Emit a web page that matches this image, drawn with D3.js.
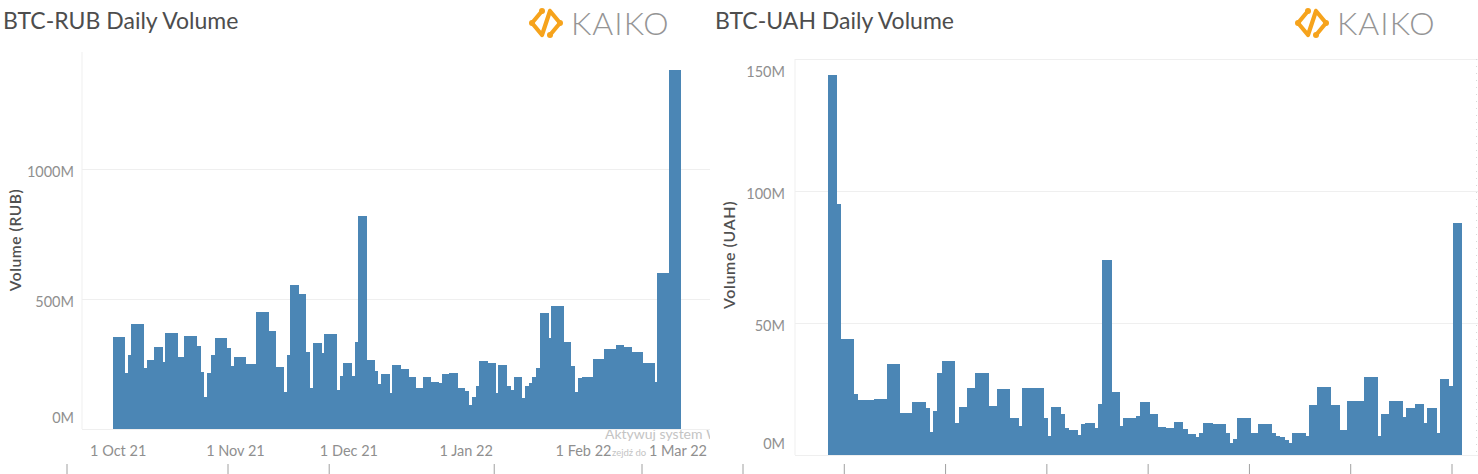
<!DOCTYPE html>
<html>
<head>
<meta charset="utf-8">
<script src="https://cdn.jsdelivr.net/npm/d3@7"></script>
<style>
  html, body { margin: 0; padding: 0; background: #fff; }
  svg { display: block; }
  text { font-family: Lato, "Open Sans", sans-serif; }
</style>
</head>
<body>
<svg id="chart" width="1478" height="474"></svg>
<script>
// ---------------- DATA ----------------
const startDate = new Date(2021, 8, 30);   // first bar: 30 Sep 2021
const endDate   = new Date(2022, 1, 27);   // exclusive end: bars through 26 Feb 2022
const dates = d3.timeDay.range(startDate, endDate); // 150 daily categories

// BTC-RUB daily volume, millions of RUB
const rubVolume = [
  355,355,355,217,285,404,404,404,236,265,
  265,317,317,259,371,371,371,278,278,359,
  359,359,320,220,124,214,285,349,349,349,
  313,242,278,278,278,249,249,249,451,451,
  451,377,377,240,240,141,285,554,554,518,
  518,295,156,330,330,291,365,365,365,150,
  204,253,253,204,336,819,819,265,265,224,
  173,210,210,137,246,246,229,229,199,199,
  156,156,199,199,182,182,176,210,210,214,
  214,156,156,147,92,122,167,262,262,255,
  255,140,246,246,167,150,199,199,118,167,
  178,201,236,447,447,351,474,474,474,336,
  336,242,144,195,201,201,201,269,269,269,
  308,308,308,322,322,317,317,297,297,297,
  255,255,255,182,599,599,599,1380,1380,1380
];

// BTC-UAH daily volume, millions of UAH
const uahVolume = [
  144,144,95,44,44,44,23,20.8,20.8,20.8,
  20.8,21.2,21.2,21.2,34.5,34.5,34.5,16,16,16,
  20.2,20.2,20.2,17.7,8.8,16.7,31.2,35.7,35.7,35.7,
  12,18.3,18.3,25.5,25.5,31.2,31.2,31.2,18.7,18.7,
  24.9,24.9,24.9,13.9,13.9,11.1,25.5,25.5,25.5,25.5,
  25.5,13.9,7.2,18.3,18.3,15.4,10.4,9.3,9.3,7.6,
  11.6,12.2,12.2,10.4,19.3,73.9,73.9,24,24,11,
  13.9,13.9,13.9,14.9,20,20,15.4,15.4,10.5,10.5,
  10.1,10.1,12.6,12.6,9.8,8,8,6.9,8.5,12,
  12,11.6,11.6,11.6,8.2,4.7,6.1,13.9,13.9,13.9,
  8.2,8.2,11.6,11.6,11.6,8.2,7.2,6.7,5.7,4.4,
  8.2,8.2,8.2,7.2,18.9,18.9,25.6,25.6,25.6,18.9,
  18.9,9.5,9.5,20.6,20.6,20.6,20.6,29.4,29.4,29.4,
  7.2,15.4,15.4,20.6,20.6,20.6,14.5,17.9,17.9,19.3,
  19.3,12.2,17.7,17.7,8.2,28.8,28.8,26.1,88,88
];

const rubTicks = [0, 500, 1000];
const uahTicks = [0, 50, 100, 150];
const monthTicks = [
  new Date(2021, 9, 1), new Date(2021, 10, 1), new Date(2021, 11, 1),
  new Date(2022, 0, 1), new Date(2022, 1, 1), new Date(2022, 2, 1)
];
const titles = ["BTC-RUB Daily Volume", "BTC-UAH Daily Volume"];
const axisTitles = ["Volume (RUB)", "Volume (UAH)"];

// ---------------- STYLE ----------------
const BAR = "#4b86b5";
const GRID = "#efefef";
const TICKTXT = "#8f8f8f";
const TITLE = "#4d4d4d";
const ORANGE = "#f6a31c";

const svg = d3.select("#chart");
const fmtDate = d3.timeFormat("%-d %b %y");

svg.append("defs").append("clipPath").attr("id", "leftClip")
  .append("rect").attr("x", 0).attr("y", 0).attr("width", 710).attr("height", 474);

function logo(g, x, y) {
  const L = g.append("g").attr("transform", `translate(${x},${y})`);
  // stylised chain-link "<>" icon
  L.append("path")
    .attr("d", "M14,2 L4,14 L14,26 M22,2 L32,14 L22,26 M22,2 L14,26")
    .attr("fill", "none").attr("stroke", ORANGE).attr("stroke-width", 4.2)
    .attr("stroke-linecap", "round").attr("stroke-linejoin", "round");
  [[4,14],[32,14],[14,2],[22,26]].forEach(([cx, cy]) =>
    L.append("circle").attr("cx", cx).attr("cy", cy).attr("r", 3).attr("fill", ORANGE));
  L.append("text").attr("x", 43).attr("y", 26)
    .attr("font-family", "Lato, 'Open Sans', sans-serif")
    .attr("font-weight", 300).attr("font-size", 32).attr("letter-spacing", 1)
    .attr("fill", "#959595").text("KAIKO");
}

function panel(cfg) {
  const g = svg.append("g");
  const x = d3.scaleTime().domain([startDate, endDate]).range([cfg.barL, cfg.barR]);
  const y = d3.scaleLinear().domain([0, cfg.yMax]).range([cfg.y0, cfg.yTop]);

  // title
  g.append("text").attr("x", cfg.titleX).attr("y", 29)
    .attr("font-size", 23).attr("fill", TITLE).text(cfg.title);
  logo(g, cfg.logoX, 9);

  // plot frame left edge
  g.append("line").attr("x1", cfg.plotL).attr("x2", cfg.plotL)
    .attr("y1", cfg.frameTop).attr("y2", cfg.y0)
    .attr("stroke", GRID).attr("stroke-width", 1);

  // gridlines
  g.selectAll(".grid").data(cfg.ticks).join("line")
    .attr("x1", cfg.plotL).attr("x2", cfg.plotR)
    .attr("y1", d => y(d) + 0.5).attr("y2", d => y(d) + 0.5)
    .attr("stroke", GRID).attr("stroke-width", 1.2);

  // bars
  g.append("g").attr("shape-rendering", "crispEdges")
    .selectAll("rect").data(cfg.values).join("rect")
    .attr("x", (d, i) => x(dates[i]))
    .attr("width", (d, i) => x(d3.timeDay.offset(dates[i], 1)) - x(dates[i]) + 1)
    .attr("y", d => y(d))
    .attr("height", d => y(0) - y(d))
    .attr("fill", BAR);

  // y tick labels
  g.selectAll(".ytl").data(cfg.ticks).join("text")
    .attr("x", cfg.tickX)
    .attr("y", d => {
      const p = y(d);
      if (d === 0) return p - 11;
      if (p - cfg.frameTop < 5) return p + 13;
      return p + 3;
    })
    .attr("dy", "0.35em").attr("text-anchor", "end")
    .attr("font-size", 14.5).attr("fill", TICKTXT)
    .text(d => d + "M");

  // y axis title
  g.append("text")
    .attr("transform", `translate(${cfg.axisTitleX},${cfg.axisTitleY}) rotate(-90)`)
    .attr("text-anchor", "middle").attr("dy", "0.35em")
    .attr("font-family", "'Open Sans', Lato, sans-serif")
    .attr("font-size", cfg.axisTitleSize).attr("font-weight", 600)
    .attr("letter-spacing", 0.6).attr("fill", "#505050")
    .text(cfg.axisTitle);

  // x labels
  if (cfg.showX) {
    g.selectAll(".xtl").data(monthTicks).join("text")
      .attr("y", 456).attr("font-size", 14.5).attr("fill", TICKTXT)
      .attr("text-anchor", "middle")
      .text(d => fmtDate(d))
      .each(function (d) {
        const cx = x(d3.timeHour.offset(d, 12));
        const w = this.getComputedTextLength();
        let px = cx;
        if (cx + w / 2 > cfg.plotR - 3) px = cfg.plotR - 3 - w / 2;
        d3.select(this).attr("x", px);
      });
  }
  return {x, y, g};
}

// Windows activation watermark (behind the left axis labels)
const wm = svg.append("g").attr("fill", "#c4c4c4").attr("clip-path", "url(#leftClip)");
wm.append("text").attr("x", 605).attr("y", 439).attr("font-size", 14).text("Aktywuj system Windows");
wm.append("text").attr("x", 612).attr("y", 456).attr("font-size", 9.5).text("zejdź do");

const left = panel({
  title: titles[0], titleX: 3, logoX: 528,
  values: rubVolume, yMax: 1000, ticks: rubTicks,
  barL: 112.5, barR: 680, plotL: 82, plotR: 710,
  y0: 429, yTop: 169, frameTop: 52,
  tickX: 74, axisTitle: axisTitles[0], axisTitleX: 16, axisTitleY: 240, axisTitleSize: 15.5,
  showX: true
});

const right = panel({
  title: titles[1], titleX: 715, logoX: 1294,
  values: uahVolume, yMax: 150, ticks: uahTicks,
  barL: 827.7, barR: 1461, plotL: 795, plotR: 1478,
  y0: 455, yTop: 59, frameTop: 59,
  tickX: 785, axisTitle: axisTitles[1], axisTitleX: 729, axisTitleY: 255, axisTitleSize: 16,
  showX: false
});

// right-edge dotted border on right panel
svg.append("line").attr("x1", 1476.5).attr("x2", 1476.5).attr("y1", 59).attr("y2", 455)
  .attr("stroke", "#d8d8d8").attr("stroke-dasharray", "1,6");

// cut-off tick marks of the axis strip below the charts
const lowerL = d3.scaleLinear().domain([0, 1]).range([67, 642]);
const lowerR = d3.scaleLinear().domain([0, 7]).range([743, 1452]);
const lowTicks = [0, 0.28, 0.456, 0.743, 1].map(lowerL).concat(d3.range(8).map(lowerR));
svg.append("g").selectAll("line").data(lowTicks).join("line")
  .attr("x1", d => d).attr("x2", d => d).attr("y1", 464).attr("y2", 474)
  .attr("stroke", "#a0a0a0").attr("stroke-width", 1);
</script>
</body>
</html>
